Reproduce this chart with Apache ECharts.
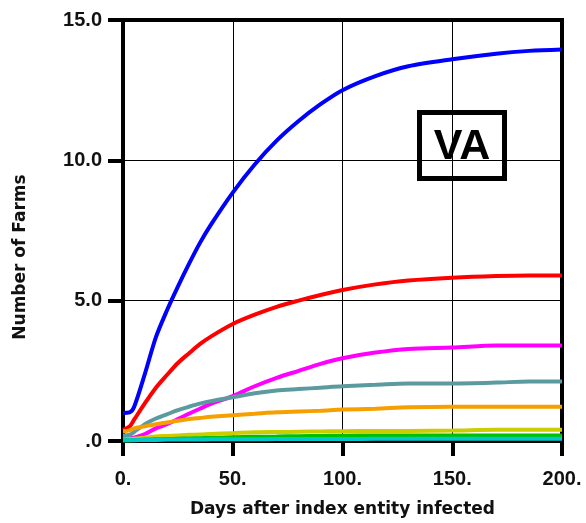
<!DOCTYPE html>
<html>
<head>
<meta charset="utf-8">
<script src="https://cdn.jsdelivr.net/npm/echarts@6/dist/echarts.min.js"></script>
<style>
html,body{margin:0;padding:0;background:#fff;}
#chart{width:586px;height:523px;}
</style>
</head>
<body>
<div id="chart"></div>
<script>
var days    = [0, 3, 5, 10, 15, 20, 25, 30, 35, 40, 50, 60, 70, 80, 90, 100, 115, 130, 150, 170, 185, 200];
var blue    = [1.0, 1.02, 1.2, 2.4, 3.7, 4.65, 5.5, 6.3, 7.05, 7.7, 8.85, 9.85, 10.7, 11.4, 12.0, 12.5, 13.0, 13.35, 13.6, 13.8, 13.9, 13.95];
var red     = [0.4, 0.52, 0.75, 1.35, 1.9, 2.35, 2.78, 3.12, 3.45, 3.72, 4.17, 4.5, 4.78, 5.0, 5.2, 5.38, 5.58, 5.72, 5.82, 5.88, 5.9, 5.9];
var magenta = [0.1, 0.1, 0.12, 0.25, 0.45, 0.6, 0.78, 0.97, 1.15, 1.32, 1.6, 1.95, 2.25, 2.5, 2.75, 2.95, 3.15, 3.28, 3.33, 3.4, 3.4, 3.4];
var teal    = [0.2, 0.22, 0.32, 0.6, 0.8, 0.95, 1.1, 1.22, 1.33, 1.42, 1.56, 1.7, 1.8, 1.85, 1.9, 1.95, 2.0, 2.05, 2.05, 2.08, 2.12, 2.12];
var orange  = [0.35, 0.38, 0.45, 0.52, 0.6, 0.66, 0.72, 0.78, 0.82, 0.86, 0.92, 0.97, 1.02, 1.05, 1.08, 1.12, 1.15, 1.2, 1.22, 1.22, 1.22, 1.22];
var yellow  = [0.05, 0.07, 0.08, 0.12, 0.16, 0.18, 0.2, 0.22, 0.23, 0.25, 0.28, 0.31, 0.32, 0.33, 0.34, 0.35, 0.36, 0.36, 0.37, 0.4, 0.4, 0.4];
var green   = [0.03, 0.03, 0.04, 0.05, 0.06, 0.07, 0.08, 0.09, 0.1, 0.11, 0.13, 0.15, 0.16, 0.17, 0.18, 0.19, 0.2, 0.2, 0.2, 0.2, 0.2, 0.2];
var cyan    = [0.03, 0.03, 0.03, 0.04, 0.04, 0.05, 0.05, 0.05, 0.05, 0.06, 0.06, 0.06, 0.07, 0.07, 0.07, 0.07, 0.08, 0.08, 0.08, 0.08, 0.08, 0.08];
var xTicks = [0, 50, 100, 150, 200];
var yTicks = [0, 5, 10, 15];
var xTitle = 'Days after index entity infected';
var yTitle = 'Number of Farms';
var panelLabel = 'VA';

function pairs(vals){ return days.map(function(d,i){ return [d, vals[i]]; }); }
var seriesDefs = [
  {name:'blue', data:blue, color:'#0000ff'},
  {name:'red', data:red, color:'#ff0000'},
  {name:'magenta', data:magenta, color:'#ff00ff'},
  {name:'teal', data:teal, color:'#5b9b9f'},
  {name:'orange', data:orange, color:'#f5a000'},
  {name:'yellow', data:yellow, color:'#cccc00'},
  {name:'green', data:green, color:'#00c000'},
  {name:'cyan', data:cyan, color:'#00c8c8'}
];

var chart = echarts.init(document.getElementById('chart'), null, {renderer:'canvas'});
var font = 'Liberation Sans, Arial, sans-serif';
var titleFont = '"DejaVu Sans", sans-serif';
chart.setOption({
  animation:false,
  backgroundColor:'#fff',
  grid:{left:123, right:24, top:20, bottom:80, show:true, borderColor:'#000', borderWidth:4, backgroundColor:'transparent'},
  xAxis:{
    type:'value', min:0, max:200, interval:50,
    name:xTitle, nameLocation:'middle', nameGap:60,
    nameTextStyle:{fontFamily:titleFont, fontWeight:'bold', fontSize:17, color:'#111'},
    axisLine:{show:true, lineStyle:{color:'#000', width:4}},
    axisTick:{show:true, length:15, lineStyle:{color:'#000', width:4}},
    axisLabel:{fontFamily:font, fontWeight:'bold', fontSize:20, color:'#111', margin:28,
      formatter:function(v){ return v + '.'; }},
    splitLine:{show:true, lineStyle:{color:'#000', width:1}}
  },
  yAxis:{
    type:'value', min:0, max:15, interval:5,
    axisLine:{show:true, lineStyle:{color:'#000', width:4}},
    axisTick:{show:true, length:15, lineStyle:{color:'#000', width:4}},
    axisLabel:{fontFamily:font, fontWeight:'bold', fontSize:20, color:'#111', margin:21,
      formatter:function(v){ return v === 0 ? '.0' : v.toFixed(1); }},
    splitLine:{show:true, lineStyle:{color:'#000', width:1}}
  },
  series: seriesDefs.map(function(s){
    return {type:'line', name:s.name, data:pairs(s.data), showSymbol:false, smooth:0.3,
      lineStyle:{color:s.color, width:4}, itemStyle:{color:s.color}, z:3};
  }),
  graphic:[
    {type:'text', x:21, y:257, rotation:Math.PI/2, z:100,
      style:{text:yTitle, textAlign:'center', textVerticalAlign:'middle',
        font:'bold 17px ' + titleFont, fill:'#111'}},
    {type:'group', left:417, top:110, z:100, children:[
      {type:'rect', shape:{x:2.5, y:2.5, width:85, height:66}, style:{fill:'#fff', stroke:'#000', lineWidth:5}},
      {type:'text', style:{text:panelLabel, x:45, y:37, textAlign:'center', textVerticalAlign:'middle',
        font:'bold 43px ' + font, fill:'#000'}}
    ]}
  ]
});
</script>
</body>
</html>
